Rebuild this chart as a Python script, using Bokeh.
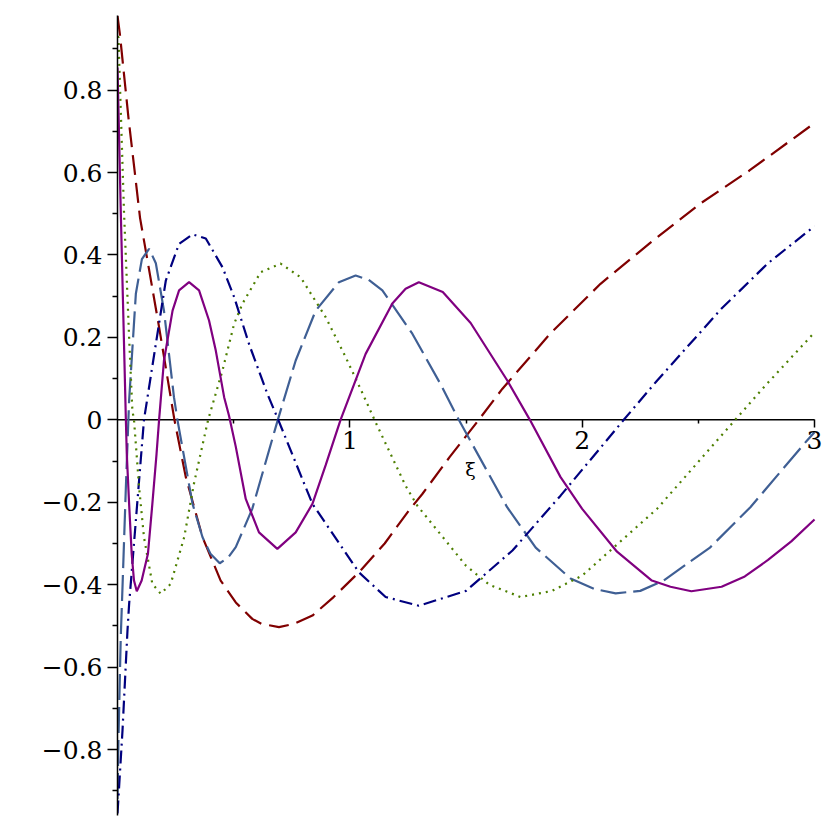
from bokeh.plotting import figure
from bokeh.models import FixedTicker, CustomJSTickFormatter, Range1d
from bokeh.embed import file_html
from bokeh.resources import INLINE

# --- data (xi, value) ---
red_x = [0.0, 0.01, 0.047, 0.097, 0.179, 0.245, 0.294, 0.366, 0.444, 0.509, 0.58, 0.62,
         0.695, 0.76, 0.839, 0.93, 1.039, 1.15, 1.254, 1.312, 1.43, 1.555, 1.656, 1.864,
         2.079, 2.294, 2.509, 2.72, 3.0]
red_y = [0.98, 0.937, 0.734, 0.49, 0.225, 0.0, -0.139, -0.285, -0.39, -0.443, -0.483, -0.495,
         -0.503, -0.495, -0.475, -0.43, -0.37, -0.30, -0.22, -0.18, -0.09, 0.0, 0.075, 0.21,
         0.33, 0.43, 0.525, 0.605, 0.72]

pur_x = [0.0, 0.014, 0.036, 0.04, 0.05, 0.061, 0.071, 0.083, 0.104, 0.131, 0.15, 0.168, 0.179,
         0.2, 0.237, 0.265, 0.308, 0.351, 0.394, 0.423, 0.459, 0.48, 0.509, 0.552, 0.609,
         0.688, 0.767, 0.839, 0.896, 0.96, 1.068, 1.183, 1.24, 1.297, 1.40, 1.52, 1.677,
         1.775, 1.907, 2.0, 2.15, 2.3, 2.38, 2.47, 2.6, 2.7, 2.8, 2.9, 3.0]
pur_y = [0.855, 0.508, 0.0, -0.083, -0.204, -0.325, -0.39, -0.416, -0.39, -0.325, -0.204,
         -0.083, 0.0, 0.144, 0.265, 0.314, 0.334, 0.314, 0.241, 0.168, 0.055, 0.01, -0.065,
         -0.192, -0.273, -0.313, -0.273, -0.204, -0.11, 0.0, 0.16, 0.282, 0.318, 0.334, 0.31,
         0.235, 0.096, 0.0, -0.139, -0.216, -0.32, -0.39, -0.405, -0.416, -0.405, -0.38,
         -0.34, -0.295, -0.242]

lb_x = [0.0, 0.004, 0.014, 0.0215, 0.036, 0.05, 0.079, 0.105, 0.136, 0.165, 0.2, 0.243, 0.258,
        0.323, 0.366, 0.40, 0.44, 0.475, 0.509, 0.58, 0.69, 0.767, 0.853, 0.953, 1.025, 1.08,
        1.14, 1.269, 1.39, 1.469, 1.677, 1.8, 1.95, 2.05, 2.144, 2.25, 2.35, 2.55, 2.724,
        2.968, 3.0]
lb_y = [-0.92, -0.78, -0.528, -0.406, -0.164, 0.047, 0.306, 0.39, 0.415, 0.38, 0.265, 0.055,
        0.0, -0.204, -0.285, -0.325, -0.348, -0.335, -0.309, -0.216, 0.0, 0.144, 0.265, 0.334,
        0.35, 0.34, 0.314, 0.209, 0.087, 0.0, -0.212, -0.31, -0.385, -0.41, -0.421, -0.415,
        -0.39, -0.31, -0.212, -0.05, -0.03]

nav_x = [0.0, 0.0215, 0.043, 0.05, 0.079, 0.114, 0.165, 0.208, 0.265, 0.323, 0.38, 0.452,
         0.502, 0.566, 0.645, 0.692, 0.839, 1.039, 1.154, 1.297, 1.5, 1.7, 1.907, 2.179,
         2.322, 2.6, 2.8, 3.0]
nav_y = [-0.955, -0.754, -0.511, -0.447, -0.244, 0.0, 0.184, 0.338, 0.427, 0.45, 0.44, 0.37,
         0.298, 0.184, 0.063, 0.0, -0.204, -0.37, -0.43, -0.451, -0.415, -0.317, -0.184, 0.0,
         0.095, 0.27, 0.38, 0.47]

grn_x = [0.0, 0.004, 0.028, 0.05, 0.064, 0.071, 0.093, 0.114, 0.15, 0.186, 0.229, 0.287,
         0.329, 0.39, 0.452, 0.502, 0.538, 0.616, 0.702, 0.788, 0.896, 0.982, 1.046, 1.111,
         1.24, 1.29, 1.5, 1.6, 1.735, 1.87, 2.0, 2.322, 2.659, 2.788, 3.0]
grn_y = [0.93, 0.929, 0.504, 0.2, 0.023, 0.0, -0.164, -0.285, -0.398, -0.422, -0.398, -0.285,
         -0.155, 0.0, 0.12, 0.233, 0.282, 0.358, 0.379, 0.346, 0.249, 0.152, 0.075, -0.006,
         -0.16, -0.208, -0.354, -0.40, -0.43, -0.415, -0.378, -0.216, 0.0, 0.083, 0.212]

x_major = [1, 2, 3]
x_minor = [0.5, 1.5, 2.5]
y_major = [-0.8, -0.6, -0.4, -0.2, 0.0, 0.2, 0.4, 0.6, 0.8]
y_minor = [-0.9, -0.7, -0.5, -0.3, -0.1, 0.1, 0.3, 0.5, 0.7, 0.9]
x_end = 3.0
x_pad = 0.0387  # a little room on the right so the last tick label is not clipped

p = figure(width=830, height=822, output_backend="svg", toolbar_location=None,
           x_range=Range1d(0, x_end + x_pad), y_range=Range1d(-0.96, 0.981),
           min_border_left=117, min_border_right=7, min_border_top=15, min_border_bottom=7)
p.outline_line_color = None
p.grid.visible = False
p.background_fill_color = "white"
p.border_fill_color = "white"

# horizontal axis line from 0 to the last tick (the Bokeh axis line is hidden)
p.segment(x0=[0], y0=[0], x1=[x_end], y1=[0], line_color="black", line_width=1.5)

p.line(red_x, red_y, line_color="#800000", line_width=2.2, line_dash="20 8")
p.line(lb_x, lb_y, line_color="#3f5f94", line_width=2.2, line_dash="26 7")
p.line(nav_x, nav_y, line_color="#00007f", line_width=2.2, line_dash="13 5 2 5")
p.line(grn_x, grn_y, line_color="#4d7f00", line_width=2.2, line_dash="2 5")
p.line(pur_x, pur_y, line_color="#800080", line_width=2.2)

xa = p.xaxis[0]
xa.fixed_location = 0
xa.ticker = FixedTicker(ticks=x_major, minor_ticks=x_minor)
xa.major_tick_out = 8
xa.major_tick_in = 0
xa.minor_tick_out = 4
xa.minor_tick_in = 0
xa.axis_line_color = None
xa.major_tick_line_color = "black"
xa.major_tick_line_width = 1.5
xa.minor_tick_line_color = "black"
xa.minor_tick_line_width = 1.5
xa.major_label_text_font = "DejaVu Serif"
xa.major_label_text_font_size = "25px"
xa.major_label_text_color = "black"
xa.major_label_standoff = 3
xa.axis_label = "ξ"
xa.axis_label_text_font = "DejaVu Serif"
xa.axis_label_text_font_style = "normal"
xa.axis_label_text_font_size = "19px"
xa.axis_label_text_color = "black"
xa.axis_label_standoff = 6

ya = p.yaxis[0]
ya.ticker = FixedTicker(ticks=y_major, minor_ticks=y_minor)
ya.formatter = CustomJSTickFormatter(code="""
  if (Math.abs(tick) < 1e-9) return "0";
  return tick < 0 ? "\\u2212" + (-tick).toFixed(1) : tick.toFixed(1);
""")
ya.major_tick_out = 10
ya.major_tick_in = 0
ya.minor_tick_out = 5
ya.minor_tick_in = 0
ya.axis_line_width = 1.5
ya.axis_line_color = "black"
ya.major_tick_line_color = "black"
ya.major_tick_line_width = 1.5
ya.minor_tick_line_color = "black"
ya.minor_tick_line_width = 1.5
ya.major_label_text_font = "DejaVu Serif"
ya.major_label_text_font_size = "25px"
ya.major_label_text_color = "black"
ya.major_label_standoff = 5

open("out.html", "w").write(file_html(p, INLINE))
